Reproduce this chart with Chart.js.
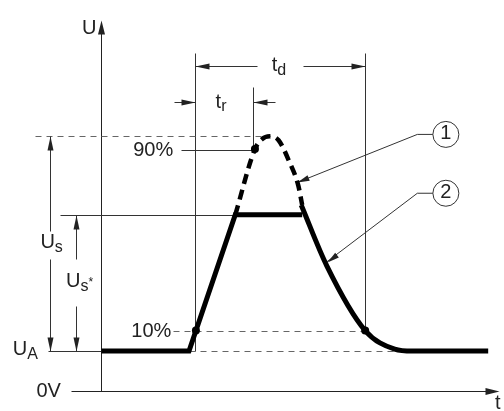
<!DOCTYPE html>
<html>
<head>
<meta charset="utf-8">
<script src="https://cdn.jsdelivr.net/npm/chart.js@4/dist/chart.umd.min.js"></script>
<style>
  html, body { margin: 0; padding: 0; background: #fff; }
  canvas { display: block; }
</style>
</head>
<body>
<canvas id="pulse" width="504" height="411"></canvas>
<script>
// voltage levels (0V = 0)
const levelUA = 4.1;
const level10 = 6.2;
const levelUs = 18.0;
const levelPeak = 26.0;
const level90 = 24.7;

// times (pulse axis at t = 0)
const tStart = 9.5;     // 10% crossing
const tRiseEnd = 15.4;  // 90% crossing
const tEnd = 26.8;      // end of t_d

// solid pulse: base line, rise, clipped plateau
const pulseT = [0, 8.9, 13.6, 20.4];
const pulseU = [4.1, 4.1, 18.0, 18.0];

// solid falling tail
const tailT = [20.3, 22.9, 26.8, 29.8, 31.6, 39.3];
const tailU = [19.0, 12.8, 6.2, 4.3, 4.1, 4.1];

// dashed unclipped peak
const peakT = [13.6, 15.6, 16.3, 17.1, 18.0, 19.1, 20.0, 20.4];
const peakU = [18.0, 24.7, 25.7, 26.0, 25.6, 23.4, 21.0, 19.0];

// marker dots (10%, 90%, end of t_d)
const dotT = [9.6, 15.6, 26.8];
const dotU = [6.2, 24.7, 6.2];

const pts = (xs, ys) => xs.map((v, i) => ({ x: v, y: ys[i] }));

const INK = '#222';
const GUIDE = '#333';
const DASH = '#666';
const FONT = '"Liberation Sans", Arial, sans-serif';

const sketch = {
  id: 'sketch',
  beforeDatasetsDraw(chart) {
    const { ctx, scales: { x, y } } = chart;
    const X = v => Math.round(x.getPixelForValue(v)) + 0.5;
    const Y = v => Math.round(y.getPixelForValue(v)) + 0.5;

    function line(x1, y1, x2, y2, color, dash) {
      ctx.save();
      ctx.strokeStyle = color || GUIDE;
      ctx.lineWidth = 1;
      ctx.setLineDash(dash || []);
      ctx.beginPath();
      ctx.moveTo(X(x1), Y(y1));
      ctx.lineTo(X(x2), Y(y2));
      ctx.stroke();
      ctx.restore();
    }
    // arrowhead with tip at (tx, ty) pointing away from (fx, fy)
    function head(fx, fy, tx, ty, len, half) {
      len = len || 14; half = half || 3;
      const x1 = X(fx), y1 = Y(fy), x2 = X(tx), y2 = Y(ty);
      const a = Math.atan2(y2 - y1, x2 - x1);
      ctx.save();
      ctx.fillStyle = INK;
      ctx.beginPath();
      ctx.moveTo(x2, y2);
      ctx.lineTo(x2 - len * Math.cos(a) + half * Math.sin(a), y2 - len * Math.sin(a) - half * Math.cos(a));
      ctx.lineTo(x2 - len * Math.cos(a) - half * Math.sin(a), y2 - len * Math.sin(a) + half * Math.cos(a));
      ctx.closePath();
      ctx.fill();
      ctx.restore();
    }
    function arrow(x1, y1, x2, y2) {
      line(x1, y1, x2, y2);
      head(x1, y1, x2, y2);
    }
    function text(str, tx, ty, align, size) {
      ctx.save();
      ctx.fillStyle = INK;
      ctx.font = (size || 20) + 'px ' + FONT;
      ctx.textAlign = align || 'left';
      ctx.textBaseline = 'middle';
      ctx.fillText(str, x.getPixelForValue(tx), y.getPixelForValue(ty));
      ctx.restore();
    }
    // base letter plus lowered subscript, left anchored
    function subText(base, sub, tx, ty, extra) {
      ctx.save();
      ctx.fillStyle = INK;
      ctx.textBaseline = 'middle';
      ctx.font = '20px ' + FONT;
      const px = x.getPixelForValue(tx), py = y.getPixelForValue(ty);
      ctx.fillText(base, px, py);
      const w = ctx.measureText(base).width;
      ctx.font = '16px ' + FONT;
      ctx.fillText(sub, px + w, py + 5);
      if (extra) {
        const w2 = ctx.measureText(sub).width;
        ctx.font = '12px ' + FONT;
        ctx.fillText(extra, px + w + w2, py + 1);
      }
      ctx.restore();
    }
    function callout(label, cx, cy, kx, ex, ey) {
      const r = 13;
      const px = x.getPixelForValue(cx), py = y.getPixelForValue(cy);
      ctx.save();
      ctx.strokeStyle = GUIDE;
      ctx.lineWidth = 1;
      ctx.beginPath();
      ctx.arc(px, py, r, 0, Math.PI * 2);
      ctx.stroke();
      ctx.beginPath();
      ctx.moveTo(px - r, py);
      ctx.lineTo(x.getPixelForValue(kx), py);
      ctx.lineTo(x.getPixelForValue(ex), y.getPixelForValue(ey));
      ctx.stroke();
      ctx.restore();
      head(kx, cy, ex, ey, 12, 3);
      text(label, cx, cy + 0.1, 'center', 20);
    }

    // axes
    line(0, 0, 0, 37.5, INK);
    head(0, 30, 0, 37.9, 14, 3.5);
    line(-3.1, 0, 40.0, 0, INK);
    head(30, 0, 40.4, 0, 14, 3.5);

    // solid guides
    line(tStart, levelUA, tStart, 34.5);
    line(tRiseEnd, level90, tRiseEnd, 31.0);
    line(tEnd, level10, tEnd, 34.5);
    line(-4.2, levelUs, 13.6, levelUs);
    line(-5.4, levelUA, 0, levelUA);
    line(8.1, 24.6, 15.6, 24.6);

    // dashed guides
    line(-6.7, levelPeak, 17.1, levelPeak, DASH, [6, 5]);
    line(7.3, level10, tEnd, level10, DASH, [6, 5]);
    line(8.9, levelUA, 30.5, levelUA, DASH, [6, 5]);

    // U_s dimension
    line(-5.2, levelPeak, -5.2, 16.3);
    line(-5.2, 13.5, -5.2, levelUA);
    head(-5.2, 20, -5.2, levelPeak);
    head(-5.2, 10, -5.2, levelUA);
    // U_s* dimension
    line(-2.6, levelUs, -2.6, 13.5);
    line(-2.6, 8.7, -2.6, levelUA);
    head(-2.6, 12, -2.6, levelUs);
    head(-2.6, 8, -2.6, levelUA);
    // t_d dimension
    line(tStart, 33.2, 15.8, 33.2);
    line(20.5, 33.2, tEnd, 33.2);
    head(15, 33.2, tStart, 33.2);
    head(21, 33.2, tEnd, 33.2);
    // t_r dimension
    arrow(7.4, 29.5, tStart, 29.5);
    arrow(17.6, 29.5, tRiseEnd, 29.5);

    // callouts
    callout('1', 35.0, 26.2, 32.1, 19.9, 21.3);
    callout('2', 35.0, 20.2, 32.1, 22.9, 13.2);

    // labels
    text('U', -0.5, 37.0, 'right');
    text('t', 40.0, -1.2, 'left');
    text('0V', -6.6, 0, 'left');
    text('90%', 7.3, 24.6, 'right');
    text('10%', 7.1, 6.1, 'right');
    subText('U', 'A', -9.0, 4.3);
    subText('U', 's', -6.2, 15.2);
    subText('U', 's', -3.6, 11.2, '*');
    subText('t', 'r', 11.6, 29.5);
    subText('t', 'd', 17.3, 33.2);
  }
};

new Chart(document.getElementById('pulse'), {
  type: 'scatter',
  data: {
    datasets: [
      {
        data: pts(peakT, peakU),
        showLine: true,
        borderColor: '#000',
        borderWidth: 4.5,
        borderDash: [10, 6],
        cubicInterpolationMode: 'monotone',
        pointRadius: 0
      },
      {
        data: pts(pulseT, pulseU),
        showLine: true,
        borderColor: '#000',
        borderWidth: 5,
        borderCapStyle: 'butt',
        borderJoinStyle: 'miter',
        tension: 0,
        pointRadius: 0
      },
      {
        data: pts(tailT, tailU),
        showLine: true,
        borderColor: '#000',
        borderWidth: 5,
        cubicInterpolationMode: 'monotone',
        pointRadius: 0
      },
      {
        data: pts(dotT, dotU),
        showLine: false,
        pointRadius: 4,
        pointBackgroundColor: '#000',
        pointBorderWidth: 0
      }
    ]
  },
  options: {
    responsive: false,
    animation: false,
    layout: { padding: 0 },
    plugins: { legend: { display: false }, tooltip: { enabled: false } },
    scales: {
      x: { type: 'linear', min: -9.9, max: 40.5, display: false },
      y: { type: 'linear', min: -1.6, max: 39.5, display: false }
    }
  },
  plugins: [sketch]
});
</script>
</body>
</html>
